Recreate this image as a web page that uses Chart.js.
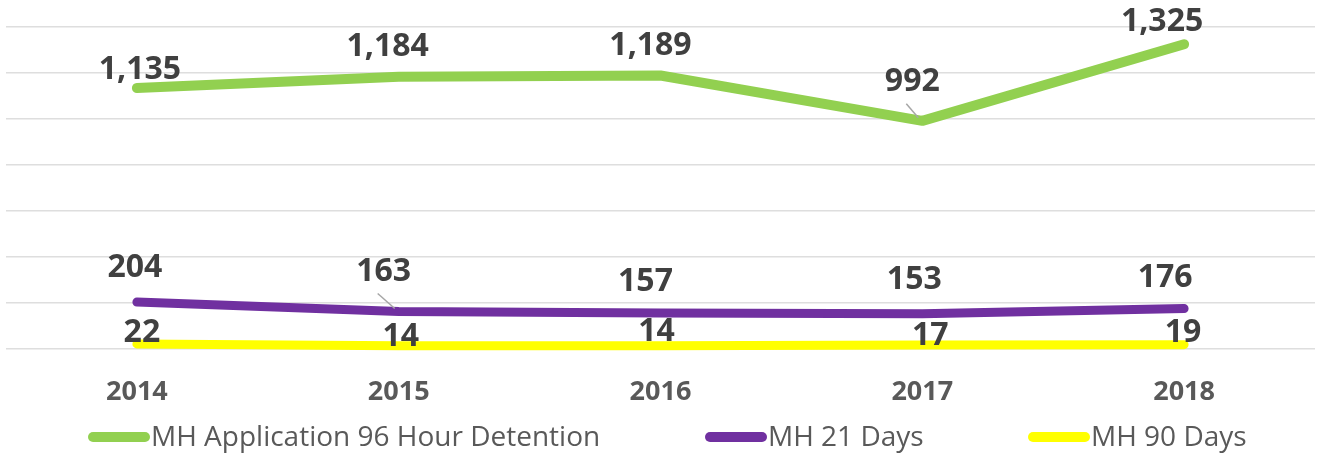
<!DOCTYPE html>
<html>
<head>
<meta charset="utf-8">
<script src="https://cdn.jsdelivr.net/npm/chart.js@4.4.1/dist/chart.umd.min.js"></script>
<style>
  html, body { margin: 0; padding: 0; background: #fff; }
  #wrap { width: 1317px; height: 453px; position: relative; }
</style>
</head>
<body>
<div id="wrap"><canvas id="chart"></canvas></div>
<script>
// data
const years = ['2014', '2015', '2016', '2017', '2018'];
const detention96h = [1135, 1184, 1189, 992, 1325];
const days21 = [204, 163, 157, 153, 176];
const days90 = [22, 14, 14, 17, 19];
const yMax = 1400;
const yStep = 200;

// label nudges (px) so the numbers sit where they do in the picture
const labelOffsets = [
  [[3, -18], [-11, -30], [-10, -30], [-10, -39], [-22, -22]],
  [[-2, -34], [-15, -40], [-15, -31], [-8, -34], [-19, -31]],
  [[5, -11], [2, -9], [-4, -14], [8, -9], [-1, -12]]
];
// labels that were dragged away get a thin leader line back to the point
const leaders = [[0, 3], [1, 1]];
const legendX = [88, 705, 1028];

const fmt = v => v.toLocaleString('en-US');

// value labels + custom legend
const labelPlugin = {
  id: 'valueLabels',
  afterDatasetsDraw(chart) {
    const ctx = chart.ctx;
    ctx.save();

    // leader lines
    ctx.strokeStyle = '#a6a6a6';
    ctx.lineWidth = 1.5;
    leaders.forEach(([i, j]) => {
      const pt = chart.getDatasetMeta(i).data[j];
      const off = labelOffsets[i][j];
      ctx.beginPath();
      ctx.moveTo(pt.x + off[0] - 6, pt.y + off[1] + 22);
      ctx.lineTo(pt.x - 4, pt.y - 3);
      ctx.stroke();
    });

    ctx.font = 'bold 32px "Open Sans"';
    ctx.fillStyle = '#404040';
    ctx.textAlign = 'center';
    ctx.textBaseline = 'middle';
    chart.data.datasets.forEach((ds, i) => {
      const meta = chart.getDatasetMeta(i);
      meta.data.forEach((pt, j) => {
        const off = labelOffsets[i][j];
        ctx.fillText(fmt(ds.data[j]), pt.x + off[0], pt.y + off[1]);
      });
    });

    // legend
    const ly = 437;
    chart.data.datasets.forEach((ds, i) => {
      const x = legendX[i];
      ctx.beginPath();
      ctx.lineCap = 'round';
      ctx.lineWidth = 10;
      ctx.strokeStyle = ds.borderColor;
      ctx.moveTo(x + 5, ly);
      ctx.lineTo(x + 57, ly);
      ctx.stroke();
      ctx.font = '28px "Open Sans"';
      ctx.fillStyle = '#595959';
      ctx.textAlign = 'left';
      ctx.fillText(ds.label, x + 63, ly + 1);
    });
    ctx.restore();
  }
};

new Chart(document.getElementById('chart'), {
  type: 'line',
  data: {
    labels: years,
    datasets: [
      { label: 'MH Application 96 Hour Detention', data: detention96h, borderColor: '#92d050', backgroundColor: '#92d050', borderWidth: 10 },
      { label: 'MH 21 Days', data: days21, borderColor: '#7030a0', backgroundColor: '#7030a0', borderWidth: 9 },
      { label: 'MH 90 Days', data: days90, borderColor: '#ffff00', backgroundColor: '#ffff00', borderWidth: 9 }
    ]
  },
  options: {
    responsive: true,
    maintainAspectRatio: false,
    animation: false,
    datasets: {
      line: {
        tension: 0,
        pointRadius: 0,
        borderCapStyle: 'round',
        borderJoinStyle: 'round',
        clip: false
      }
    },
    layout: { padding: { top: 27, left: 6, right: 2, bottom: 32 } },
    plugins: {
      legend: { display: false },
      tooltip: { enabled: false },
      title: { display: false }
    },
    scales: {
      x: {
        offset: true,
        grid: { display: false, drawTicks: false },
        border: { display: false },
        ticks: {
          padding: 27,
          color: '#595959',
          font: { family: 'Open Sans', size: 27, weight: 'bold' }
        },
        afterFit(scale) { scale.height = 72; }
      },
      y: {
        min: 0,
        max: yMax,
        grid: { color: '#dedede', lineWidth: 1.5, drawTicks: false },
        border: { display: false },
        ticks: { display: false, stepSize: yStep }
      }
    }
  },
  plugins: [labelPlugin]
});
</script>
</body>
</html>
